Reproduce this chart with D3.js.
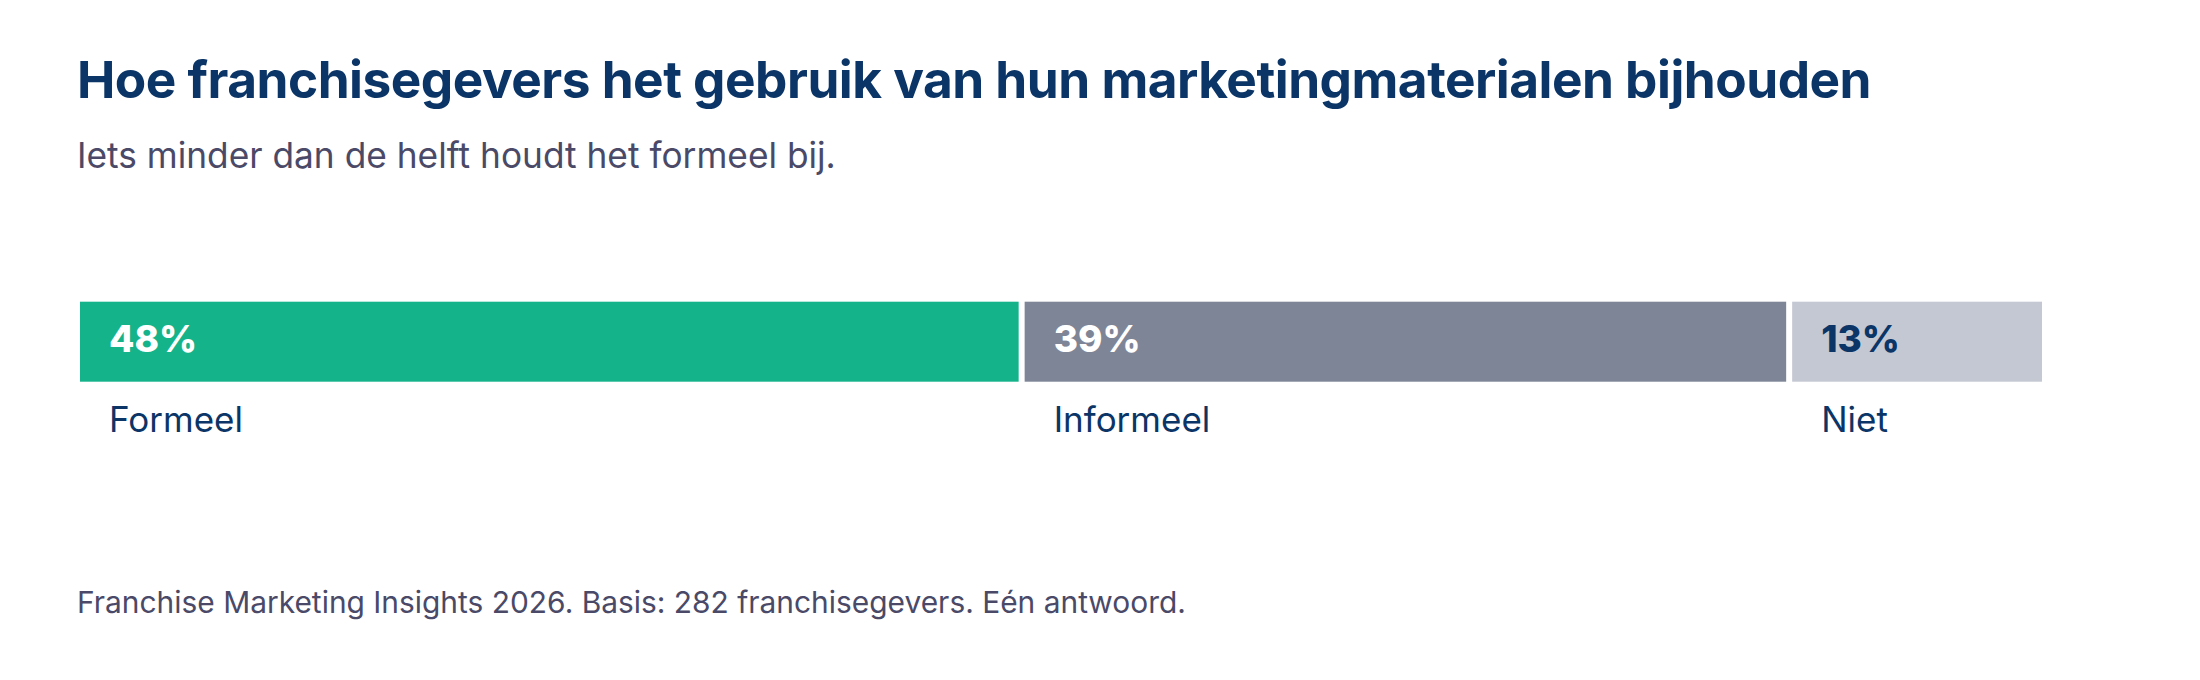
<!DOCTYPE html>
<html>
<head>
<meta charset="utf-8">
<script src="https://cdn.jsdelivr.net/npm/d3@7"></script>
<style>
  html, body { margin: 0; padding: 0; background: #fff; }
  svg { display: block; font-family: Inter, "Open Sans", sans-serif; }
</style>
</head>
<body>
<svg id="chart" width="2200" height="680"></svg>
<script>
// data
const categories = ['Formeel', 'Informeel', 'Niet'];
const values = [48, 39, 13];

const title = 'Hoe franchisegevers het gebruik van hun marketingmaterialen bijhouden';
const subtitle = 'Iets minder dan de helft houdt het formeel bij.';
const source = 'Franchise Marketing Insights 2026. Basis: 282 franchisegevers. Eén antwoord.';

// styles
const fills = ['#15b38a', '#7e8597', '#c4c8d2'];
const valueColors = ['#ffffff', '#ffffff', '#0b3567'];
const navy = '#0b3567';
const grey = '#4a4a68';

const W = 2200, H = 680;
const left = 77, right = 2045;
const svg = d3.select('#chart');

// fit a text to a wanted width by scaling its font size
function fit(sel, width) {
    const w = sel.node().getComputedTextLength();
    const fs = parseFloat(sel.attr('font-size'));
    sel.attr('font-size', (fs * width / w).toFixed(2));
}

const t = svg.append('text')
    .attr('x', left).attr('y', 98)
    .attr('font-size', 48).attr('font-weight', 700)
    .attr('fill', navy)
    .attr('letter-spacing', -0.5)
    .text(title);
fit(t, 1792);

const st = svg.append('text')
    .attr('x', left).attr('y', 168)
    .attr('font-size', 32)
    .attr('fill', grey)
    .text(subtitle);
fit(st, 759);

// stacked segments
let acc = 0;
const segs = values.map((v, i) => {
    const s = {cat: categories[i], value: v, start: acc, end: acc + v, i: i};
    acc += v;
    return s;
});

const x = d3.scaleLinear().domain([0, 100]).range([left, right]);
const y = d3.scaleBand().domain(['bar']).range([301.7, 381.7]);
const gap = 3;

const g = svg.append('g');

g.selectAll('rect')
    .data(segs)
    .join('rect')
    .attr('x', d => x(d.start) + gap)
    .attr('y', y('bar'))
    .attr('width', d => x(d.end) - x(d.start) - gap * 2)
    .attr('height', y.bandwidth())
    .attr('fill', d => fills[d.i]);

g.selectAll('.val')
    .data(segs)
    .join('text')
    .attr('class', 'val')
    .attr('x', d => x(d.start) + 32)
    .attr('y', y('bar') + 50.5)
    .attr('font-size', 37)
    .attr('font-weight', 800)
    .attr('fill', d => valueColors[d.i])
    .text(d => d.value + '%');

g.selectAll('.cat')
    .data(segs)
    .join('text')
    .attr('class', 'cat')
    .attr('x', d => x(d.start) + 32)
    .attr('y', 431.7)
    .attr('font-size', 35)
    .attr('fill', navy)
    .text(d => d.cat);

const ft = svg.append('text')
    .attr('x', left).attr('y', 613)
    .attr('font-size', 28)
    .attr('fill', grey)
    .text(source);
fit(ft, 1109);
</script>
</body>
</html>
